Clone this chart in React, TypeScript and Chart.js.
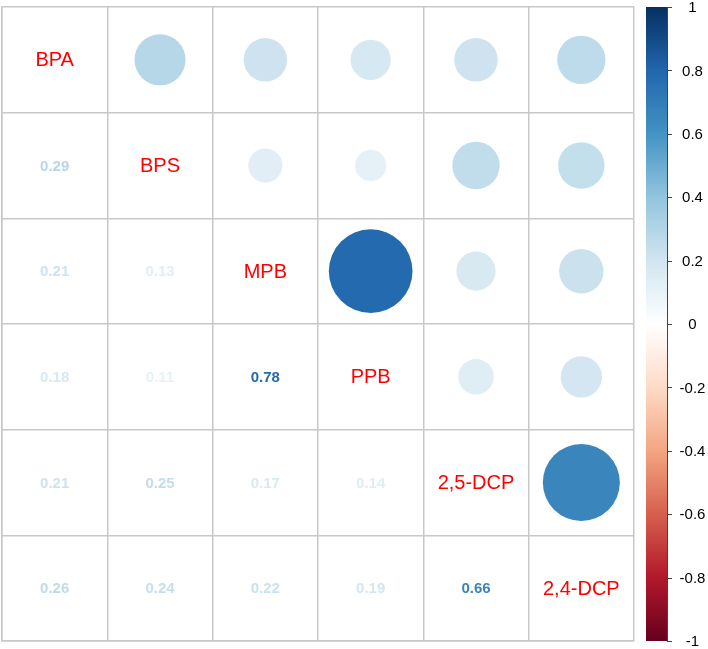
import React, { useEffect, useRef } from "react";
import { Chart, registerables } from "chart.js";

Chart.register(...registerables);

const variables = ["BPA", "BPS", "MPB", "PPB", "2,5-DCP", "2,4-DCP"];
const corrBPA = [1, 0.29, 0.21, 0.18, 0.21, 0.26];
const corrBPS = [0.29, 1, 0.13, 0.11, 0.25, 0.24];
const corrMPB = [0.21, 0.13, 1, 0.78, 0.17, 0.22];
const corrPPB = [0.18, 0.11, 0.78, 1, 0.14, 0.19];
const corr25DCP = [0.21, 0.25, 0.17, 0.14, 1, 0.66];
const corr24DCP = [0.26, 0.24, 0.22, 0.19, 0.66, 1];
const matrix = [corrBPA, corrBPS, corrMPB, corrPPB, corr25DCP, corr24DCP];
const colorbarTicks = [1, 0.8, 0.6, 0.4, 0.2, 0, -0.2, -0.4, -0.6, -0.8, -1];

const PALETTE = [
  "#67001F", "#B2182B", "#D6604D", "#F4A582", "#FDDBC7", "#FFFFFF",
  "#D1E5F0", "#92C5DE", "#4393C3", "#2166AC", "#053061",
];

function hexToRgb(h: string) {
  return [parseInt(h.slice(1, 3), 16), parseInt(h.slice(3, 5), 16), parseInt(h.slice(5, 7), 16)];
}

function colorFor(v: number) {
  const t = Math.max(0, Math.min(1, (v + 1) / 2)) * (PALETTE.length - 1);
  const i = Math.min(PALETTE.length - 2, Math.floor(t));
  const f = t - i;
  const a = hexToRgb(PALETTE[i]);
  const b = hexToRgb(PALETTE[i + 1]);
  const c = a.map((x, k) => Math.round(x + (b[k] - x) * f));
  return `rgb(${c[0]},${c[1]},${c[2]})`;
}

const FONT = "Arial, 'Liberation Sans', sans-serif";

export default function App() {
  const ref = useRef<HTMLCanvasElement | null>(null);

  useEffect(() => {
    document.body.style.margin = "0";
    const canvas = ref.current;
    if (!canvas) return;

    const n = variables.length;
    const points: { x: number; y: number; v: number }[] = [];
    for (let r = 0; r < n; r++) {
      for (let c = r + 1; c < n; c++) {
        points.push({ x: c + 0.5, y: r + 0.5, v: matrix[r][c] });
      }
    }

    const textPlugin = {
      id: "corrText",
      afterDatasetsDraw(chart: any) {
        const { ctx, scales, chartArea } = chart;
        const xs = scales.x;
        const ys = scales.y;
        ctx.save();
        ctx.textAlign = "center";
        ctx.textBaseline = "middle";
        for (let r = 0; r < n; r++) {
          for (let c = 0; c <= r; c++) {
            const px = xs.getPixelForValue(c + 0.5);
            const py = ys.getPixelForValue(r + 0.5);
            if (r === c) {
              ctx.fillStyle = "#FF0000";
              ctx.font = `20px ${FONT}`;
              ctx.fillText(variables[r], px, py + 1);
            } else {
              const v = matrix[r][c];
              ctx.fillStyle = colorFor(v);
              ctx.font = `bold 15px ${FONT}`;
              ctx.fillText(v.toFixed(2), px, py + 1);
            }
          }
        }
        // colour legend
        const top = chartArea.top;
        const bottom = chartArea.bottom;
        const x0 = chartArea.right + 12;
        const x1 = chartArea.right + 33;
        const grad = ctx.createLinearGradient(0, bottom, 0, top);
        PALETTE.forEach((col, i) => grad.addColorStop(i / (PALETTE.length - 1), col));
        ctx.fillStyle = grad;
        ctx.fillRect(x0, top, x1 - x0, bottom - top);
        ctx.strokeStyle = "#444444";
        ctx.lineWidth = 1;
        ctx.beginPath();
        ctx.moveTo(x1 + 0.5, top);
        ctx.lineTo(x1 + 0.5, bottom);
        ctx.stroke();
        ctx.fillStyle = "#000000";
        ctx.font = `15px ${FONT}`;
        colorbarTicks.forEach((t) => {
          const y = bottom - ((t + 1) / 2) * (bottom - top);
          ctx.beginPath();
          ctx.moveTo(x1, Math.round(y) + 0.5);
          ctx.lineTo(x1 + 5, Math.round(y) + 0.5);
          ctx.stroke();
          ctx.fillText(String(t), chartArea.right + 58.5, y + 1);
        });
        ctx.restore();
      },
    };

    const chart = new Chart(canvas, {
      type: "scatter",
      data: {
        datasets: [
          {
            data: points as any,
            pointRadius: (ctx: any) => {
              const xs = ctx.chart.scales.x;
              const cell = xs.getPixelForValue(1) - xs.getPixelForValue(0);
              const raw = ctx.raw as any;
              return raw ? Math.sqrt(Math.abs(raw.v)) * 0.45 * cell : 0;
            },
            pointBackgroundColor: (ctx: any) => {
              const raw = ctx.raw as any;
              return raw ? colorFor(raw.v) : "#fff";
            },
            pointBorderWidth: 0,
            pointHoverRadius: 0,
          },
        ],
      },
      options: {
        responsive: false,
        animation: false,
        events: [],
        layout: { padding: { left: 2, top: 7, right: 74, bottom: 8 } },
        plugins: { legend: { display: false }, tooltip: { enabled: false } },
        scales: {
          x: {
            type: "linear",
            min: 0,
            max: 6,
            ticks: { display: false, stepSize: 1 },
            grid: { color: "#C8C8C8", lineWidth: 1.5, drawTicks: false },
            border: { display: true, color: "#C8C8C8", width: 1.5 },
          },
          y: {
            type: "linear",
            min: 0,
            max: 6,
            reverse: true,
            ticks: { display: false, stepSize: 1 },
            grid: { color: "#C8C8C8", lineWidth: 1.5, drawTicks: false },
            border: { display: true, color: "#C8C8C8", width: 1.5 },
          },
        },
      },
      plugins: [textPlugin],
    });

    return () => chart.destroy();
  }, []);

  return <canvas ref={ref} width={708} height={649} style={{ display: "block" }} />;
}
